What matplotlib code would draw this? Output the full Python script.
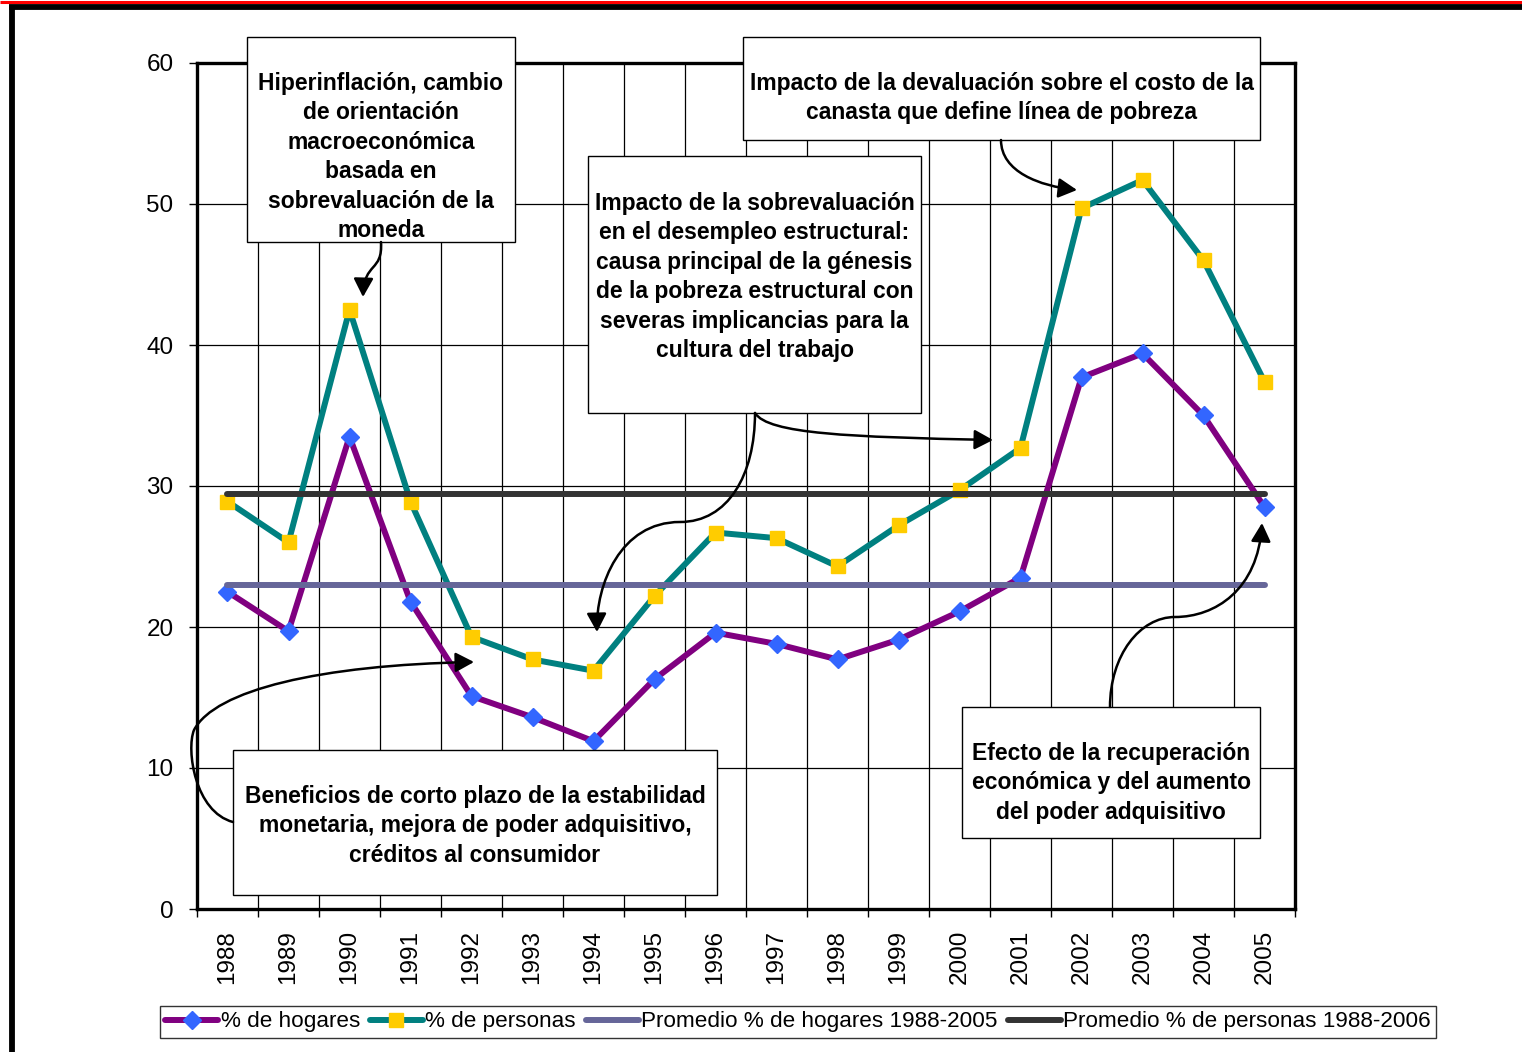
import matplotlib
matplotlib.use("Agg")
import matplotlib.pyplot as plt
import numpy as np
from matplotlib.patches import Rectangle, FancyArrowPatch
from matplotlib.path import Path
from matplotlib.lines import Line2D

# --- data -------------------------------------------------------------
years = ["1988", "1989", "1990", "1991", "1992", "1993", "1994", "1995", "1996",
         "1997", "1998", "1999", "2000", "2001", "2002", "2003", "2004", "2005"]
hogares = [22.5, 19.7, 33.5, 21.8, 15.1, 13.6, 11.9, 16.3, 19.6,
           18.8, 17.7, 19.1, 21.1, 23.5, 37.7, 39.4, 35.0, 28.5]
personas = [28.9, 26.0, 42.5, 28.9, 19.3, 17.7, 16.9, 22.2, 26.7,
            26.3, 24.3, 27.2, 29.7, 32.7, 49.7, 51.7, 46.0, 37.4]
promedio_hogares = 23.0
promedio_personas = 29.4
series_labels = ["% de hogares", "% de personas",
                 "Promedio % de hogares 1988-2005",
                 "Promedio % de personas 1988-2006"]

FONT = "Liberation Sans"
plt.rcParams["font.family"] = [FONT, "DejaVu Sans"]

W, H = 1522, 1052
fig = plt.figure(figsize=(W / 100, H / 100), dpi=100)
fig.patch.set_facecolor("white")

# main plotting area (pixel box 197..1295 x 63..909)
ax = fig.add_axes([197 / W, (H - 909) / H, (1295 - 197) / W, (909 - 63) / H])
x = np.arange(len(years))

C_HOG, C_PER = "#800080", "#008080"
C_AVG_H, C_AVG_P = "#666699", "#333333"

ax.plot(x, hogares, color=C_HOG, lw=4.3, marker="D", ms=9, mfc="#3366FF",
        mec="#3366FF", zorder=3)
ax.plot(x, personas, color=C_PER, lw=4.3, marker="s", ms=9.5,
        mfc="#FFCC00", mec="#FFCC00", zorder=3)
ax.plot([x[0], x[-1]], [promedio_hogares] * 2, color=C_AVG_H, lw=4.3,
        solid_capstyle="round", zorder=4)
ax.plot([x[0], x[-1]], [promedio_personas] * 2, color=C_AVG_P, lw=4.3,
        solid_capstyle="round", zorder=4)

ax.set_xlim(-0.5, len(years) - 0.5)
ax.set_ylim(0, 60)
ax.set_yticks(np.arange(0, 61, 10))
ax.set_xticks(x)
ax.set_xticklabels(years, rotation=90, fontsize=17.5)
ax.set_xticks(np.arange(-0.5, len(years)), minor=True)
ax.tick_params(axis="x", which="major", length=0, pad=15)
ax.tick_params(axis="x", which="minor", length=6, width=1, direction="out")
ax.tick_params(axis="y", which="major", length=6, width=1, direction="out",
               pad=11, labelsize=17.5)
ax.grid(axis="y", which="major", color="black", lw=0.9)
ax.grid(axis="x", which="minor", color="black", lw=0.9)
ax.grid(axis="x", which="major", visible=False)
ax.set_axisbelow(True)
for s in ax.spines.values():
    s.set_linewidth(2.4)
    s.set_color("black")

# legend
handles = [
    Line2D([], [], color=C_HOG, lw=4.3, marker="D", ms=9, mfc="#3366FF",
           mec="#3366FF", solid_capstyle="round"),
    Line2D([], [], color=C_PER, lw=4.3, marker="s", ms=9.5, mfc="#FFCC00",
           mec="#FFCC00", solid_capstyle="round"),
    Line2D([], [], color=C_AVG_H, lw=4.3, solid_capstyle="round"),
    Line2D([], [], color=C_AVG_P, lw=4.3, solid_capstyle="round"),
]
leg = fig.legend(handles, series_labels, loc="center",
                 bbox_to_anchor=(798 / W, 1 - 1022 / H), ncol=4,
                 fontsize=16.2, frameon=True, fancybox=False,
                 handlelength=2.35, handletextpad=0.1, columnspacing=0.45,
                 borderpad=0.25, borderaxespad=0)
leg.get_frame().set_edgecolor("black")
leg.get_frame().set_linewidth(1.0)

# overlay in pixel coordinates for frame decoration and callouts
ov = fig.add_axes([0, 0, 1, 1], zorder=10)
ov.set_xlim(0, W)
ov.set_ylim(H, 0)
ov.axis("off")
ov.patch.set_alpha(0)

ov.plot([0, W], [1.5, 1.5], color="#FF0000", lw=2.2, solid_capstyle="butt")
ov.plot([9, W], [7, 7], color="black", lw=4.2, solid_capstyle="butt")
ov.plot([11.5, 11.5], [5, H], color="black", lw=4.2, solid_capstyle="butt")

boxes = [
    ((247, 37, 515, 242), ["Hiperinflación, cambio", "de orientación",
                           "macroeconómica", "basada en",
                           "sobrevaluación de la", "moneda"], 81),
    ((743, 37, 1260, 140), ["Impacto de la devaluación sobre el costo de la",
                            "canasta que define línea de pobreza"], 81),
    ((588, 156, 921, 413), ["Impacto de la sobrevaluación",
                            "en el desempleo estructural:",
                            "causa principal de la génesis",
                            "de la pobreza estructural con",
                            "severas implicancias para la",
                            "cultura del trabajo"], 201),
    ((233, 750, 717, 895), ["Beneficios de corto plazo de la estabilidad",
                            "monetaria, mejora de poder adquisitivo,",
                            "créditos al consumidor"], 794),
    ((962, 707, 1260, 838), ["Efecto de la recuperación",
                             "económica y del aumento",
                             "del poder adquisitivo"], 751),
]
LS = 29.4
for (x0, y0, x1, y1), lines, ytop in boxes:
    ov.add_patch(Rectangle((x0, y0), x1 - x0, y1 - y0, facecolor="white",
                           edgecolor="black", lw=1.0, zorder=2))
    cx = (x0 + x1) / 2
    for i, t in enumerate(lines):
        ov.text(cx, ytop + 2.5 + i * LS, t, ha="center", va="center",
                fontsize=16.5, fontweight="bold", color="black", zorder=3)

M, C = Path.MOVETO, Path.CURVE4
arrows = [
    [(381, 242), (383, 272), (364, 262), (363, 297)],
    [(1001, 140), (1001, 172), (1040, 186), (1077, 190)],
    [(755, 413), (768, 434), (850, 437), (993, 440)],
    [(755, 413), (755, 475), (728, 522), (680, 522),
     (620, 522), (596, 585), (597, 632)],
    [(233, 822), (195, 812), (186, 750), (194, 730),
     (215, 690), (320, 665), (474, 662)],
    [(1110, 707), (1110, 655), (1140, 617), (1175, 617),
     (1215, 617), (1258, 590), (1262, 523)],
]
for verts in arrows:
    codes = [M] + [C] * (len(verts) - 1)
    ov.add_patch(FancyArrowPatch(path=Path(verts, codes),
                                 arrowstyle="-|>,head_length=0.75,head_width=0.4",
                                 mutation_scale=15, lw=1.8, color="black",
                                 shrinkA=0, shrinkB=0, zorder=4))

fig.savefig("out.png", dpi=100, facecolor="white")
